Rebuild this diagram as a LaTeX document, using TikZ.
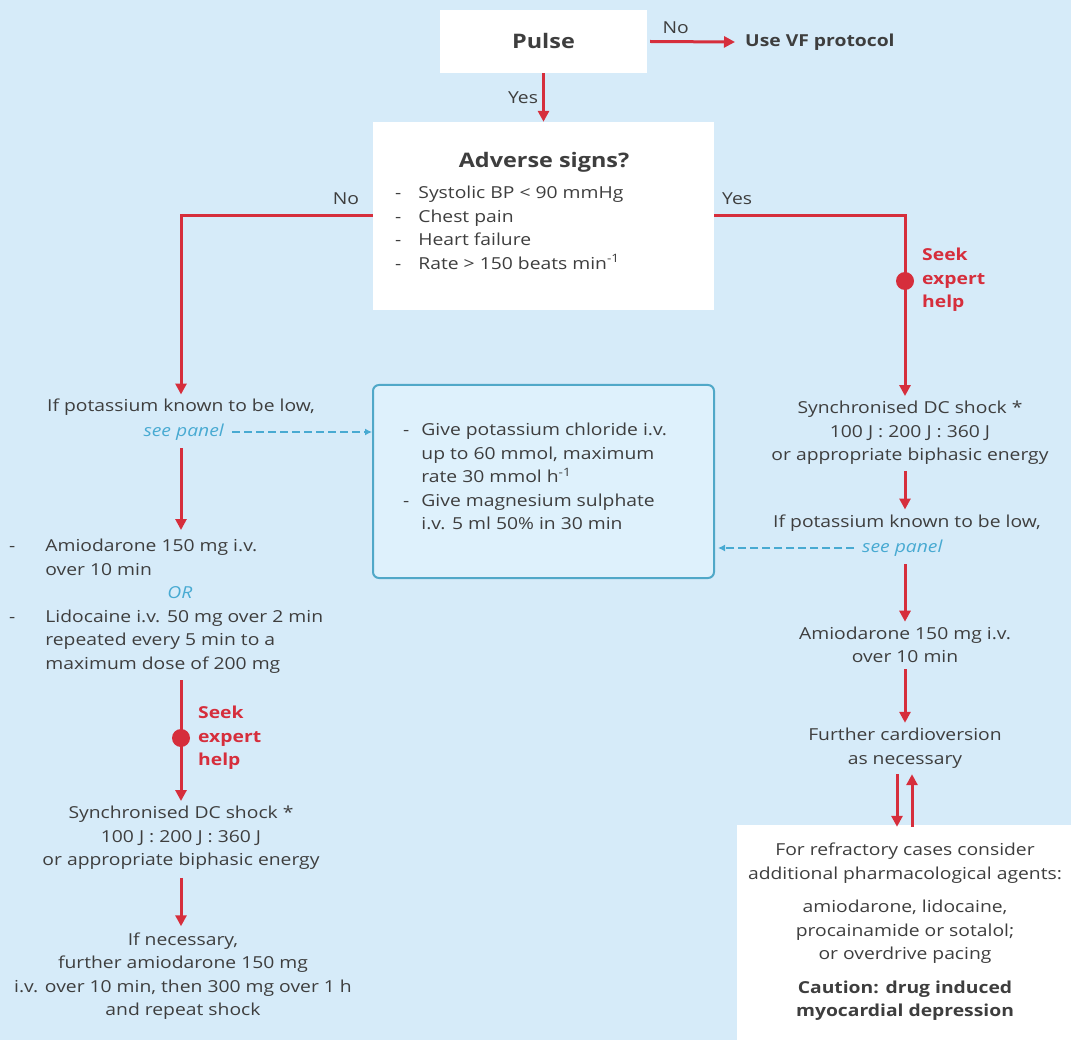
\documentclass[tikz,border=0pt]{standalone}
\usepackage{fontspec}
\setmainfont{Open Sans}[FakeStretch=1.17]
\usetikzlibrary{arrows.meta}
\definecolor{bgblue}{RGB}{214,235,249}
\definecolor{paneltint}{RGB}{222,241,252}
\definecolor{flowred}{RGB}{214,46,60}
\definecolor{hintblue}{RGB}{72,170,210}
\definecolor{panelline}{RGB}{80,168,200}
\definecolor{txtgray}{RGB}{62,62,62}
\newcommand{\bodyfont}{\fontsize{16.5}{23.5}\selectfont}
\tikzstyle{whitebox}=[fill=white, inner sep=0pt]
\tikzstyle{stage}=[align=center, inner sep=0pt, text=txtgray]
\tikzstyle{flow}=[flowred, line width=3pt, -{Triangle[width=11pt,length=11pt]}]
\tikzstyle{hint}=[hintblue, line width=1.6pt, dash pattern=on 8pt off 4pt, -{Latex[width=7pt,length=7pt]}]
\tikzstyle{expert}=[text=flowred, font=\bodyfont\bfseries, align=left, inner sep=0pt]
\tikzstyle{seepanel}=[text=hintblue, font=\bodyfont\itshape, inner sep=0pt]

\begin{document}
\begin{tikzpicture}[x=1pt, y=-1pt, font=\bodyfont]
        \fill[bgblue] (0,0) rectangle (1071,1040);
        \useasboundingbox (0,0) rectangle (1071,1040);
        % top decision
        \node[whitebox, minimum width=207pt, minimum height=63pt, text=txtgray,
            font=\fontsize{20}{24}\selectfont\bfseries] (pulse) at (543.5,41.5) {Pulse};
        \node[stage, anchor=west, font=\bodyfont\bfseries] (vf) at (745,42) {Use VF protocol};
        \draw[flow] (pulse.east) ++(3,0) coordinate (pe) (pe) -- node[pos=0.3, above=6pt, stage] {No} ([xshift=-10pt]vf.west);
        \node[whitebox, minimum width=341pt, minimum height=188pt] (adverse) at (543.5,216) {};
        \draw[flow] (pulse.south) -- node[left=4pt, stage] {Yes} (adverse.north);
        \node[stage, font=\fontsize{20}{26}\selectfont\bfseries] (advtitle) at (544,162) {Adverse signs?};
        \node[stage, anchor=north west, align=left] (advlist) at (395,182) {%
            \begin{tabular}{@{}l@{\hspace{17pt}}l@{}}
            - & Systolic BP < 90 mmHg\\
            - & Chest pain\\
            - & Heart failure\\
            - & Rate > 150 beats min\textsuperscript{-1}
            \end{tabular}};
        % potassium panel
        \node[draw=panelline, line width=2pt, fill=paneltint, rounded corners=6pt,
            minimum width=341pt, minimum height=193pt] (panel) at (543.5,481.5) {};
        \node[stage, anchor=north west, align=left] (panellist) at (403,419) {%
            \begin{tabular}{@{}l@{\hspace{12pt}}l@{}}
            - & Give potassium chloride i.v.\\
              & up to 60 mmol, maximum\\
              & rate 30 mmol h\textsuperscript{-1}\\
            - & Give magnesium sulphate\\
              & i.v. 5 ml 50\% in 30 min
            \end{tabular}};
        % left branch
        \node[stage] (lpot) at (181,407) {If potassium known to be low,};
        \node[seepanel, anchor=east] (lsee) at (224,432) {see panel};
        \draw[flow] (adverse.west) -| node[pos=0.07, above=10pt, stage] {No} ([yshift=4pt]lpot.north);
        \draw[hint] ([xshift=8pt]lsee.east) -- (panel.west |- lsee.east);
        \node[stage, anchor=north west, align=left] (ldrug) at (9,535) {%
            \begin{tabular}{@{}l@{\hspace{30pt}}l@{}}
            - & Amiodarone 150 mg i.v.\\
              & over 10 min\\
              & \hspace*{122pt}{\color{hintblue}\itshape OR}\\
            - & Lidocaine i.v. 50 mg over 2 min\\
              & repeated every 5 min to a\\
              & maximum dose of 200 mg
            \end{tabular}};
        \draw[flow] ([yshift=-8pt]lsee.south -| lpot.south) -- ([yshift=5pt]ldrug.north -| lpot.south);
        \node[stage] (lshock) at (181,838) {Synchronised DC shock *\\100 J : 200 J : 360 J\\or appropriate biphasic energy};
        \draw[flow] ([yshift=-4pt]ldrug.south -| lpot.south) -- ([yshift=5pt]lshock.north);
        \fill[flowred] (181,738) circle (9pt);
        \node[expert, anchor=west] (lexpert) at (198,738) {Seek\\expert\\help};
        \node[stage] (lfurther) at (183,976) {If necessary,\\further amiodarone 150 mg\\i.v. over 10 min, then 300 mg over 1 h\\and repeat shock};
        \draw[flow] ([yshift=-8pt]lshock.south) -- ([yshift=6pt]lshock.south |- lfurther.north);
        % right branch
        \node[stage] (rshock) at (910,433) {Synchronised DC shock *\\100 J : 200 J : 360 J\\or appropriate biphasic energy};
        \coordinate (rtrunk) at (905,433);
        \draw[flow] (adverse.east) -| node[pos=0.06, above=10pt, stage] {Yes} ([yshift=5pt]rtrunk |- rshock.north);
        \fill[flowred] (905,281) circle (9pt);
        \node[expert, anchor=west] (rexpert) at (922,280) {Seek\\expert\\help};
        \node[stage] (rpot) at (907,523) {If potassium known to be low,};
        \node[seepanel, anchor=west] (rsee) at (862,548) {see panel};
        \draw[flow] ([yshift=-6pt]rtrunk |- rshock.south) -- ([yshift=5pt]rtrunk |- rpot.north);
        \draw[hint] ([xshift=-8pt]rsee.west) -- ([xshift=3pt]panel.east |- rsee.west);
        \node[stage] (ramio) at (905,645) {Amiodarone 150 mg i.v.\\over 10 min};
        \draw[flow] ([yshift=-8pt]rtrunk |- rsee.south) -- ([yshift=5pt]ramio.north);
        \node[stage] (rfurther) at (905,748) {Further cardioversion\\as necessary};
        \draw[flow] ([yshift=-6pt]ramio.south) -- ([yshift=5pt]rfurther.north);
        % refractory cases
        \node[whitebox, minimum width=340pt, minimum height=216pt] (refract) at (907,933) {};
        \node[stage] (refrtext) at (905,932) {For refractory cases consider\\additional pharmacological agents:\\[10pt]
            amiodarone, lidocaine,\\procainamide or sotalol;\\or overdrive pacing\\[10pt]
            {\bfseries Caution: drug induced}\\{\bfseries myocardial depression}};
        \draw[flow] ([xshift=-8pt, yshift=-6pt]rfurther.south) -- ([xshift=-8pt, yshift=-2pt]rfurther.south |- refract.north);
        \draw[flow] ([xshift=7pt, yshift=-2pt]rfurther.south |- refract.north) -- ([xshift=7pt, yshift=-6pt]rfurther.south);
    \end{tikzpicture}
\end{document}
